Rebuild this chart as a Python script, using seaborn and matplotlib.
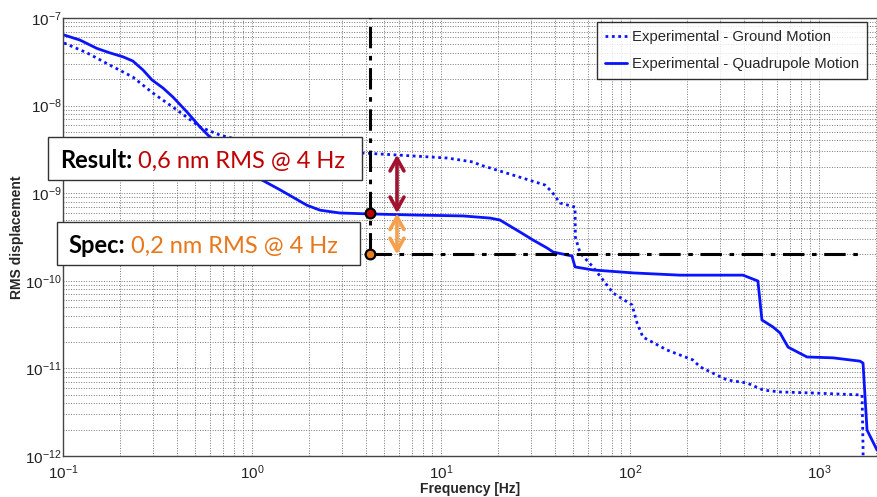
import numpy as np
import pandas as pd
import matplotlib
matplotlib.use("Agg")
import matplotlib.pyplot as plt
import seaborn as sns
from matplotlib.patches import Rectangle

# ---------------- data ----------------
ground_freq = [0.1012, 0.134, 0.177, 0.234, 0.299, 0.401, 0.531, 0.678, 1.41, 2.29,
               3.82, 5.85, 10.8, 14.8, 16.1, 18.2, 35.5, 38.7, 42.6, 51.2, 51.4,
               54.4, 63.7, 81.3, 102.5, 109, 117, 157, 215, 235, 326, 416, 506,
               622, 929, 1690, 1710, 1712]
ground_rms = [5.19e-8, 4.0e-8, 2.9e-8, 2.12e-8, 1.39e-8, 8.9e-9, 5.7e-9, 4.6e-9,
              3.11e-9, 2.88e-9, 2.88e-9, 2.73e-9, 2.52e-9, 2.27e-9, 2.1e-9, 1.94e-9,
              1.24e-9, 1.03e-9, 7.73e-10, 6.95e-10, 3.16e-10, 2.08e-10, 1.44e-10,
              7.26e-11, 5.3e-11, 3.3e-11, 2.28e-11, 1.62e-11, 1.25e-11, 1.04e-11,
              7.38e-12, 6.81e-12, 5.67e-12, 5.38e-12, 5.24e-12, 4.97e-12, 1.27e-12,
              9.0e-13]

quad_freq = [0.1012, 0.123, 0.151, 0.177, 0.208, 0.234, 0.265, 0.296, 0.338, 0.382,
             0.453, 0.531, 0.585, 1.08, 1.41, 1.95, 2.29, 2.92, 4.21, 7.11, 13.1,
             18.2, 20.5, 26.2, 30.7, 36.4, 39.2, 49.3, 51.2, 63.7, 104, 184, 396,
             475, 499, 571, 622, 686, 864, 1186, 1648, 1710, 1795, 2027]
quad_rms = [6.4e-8, 5.6e-8, 4.5e-8, 4.0e-8, 3.6e-8, 3.23e-8, 2.55e-8, 1.96e-8,
            1.59e-8, 1.25e-8, 8.45e-9, 5.7e-9, 4.6e-9, 1.49e-9, 1.09e-9, 7.3e-10,
            6.4e-10, 5.94e-10, 5.8e-10, 5.64e-10, 5.5e-10, 5.2e-10, 4.94e-10,
            3.6e-10, 2.92e-10, 2.37e-10, 2.13e-10, 1.92e-10, 1.44e-10, 1.33e-10,
            1.23e-10, 1.16e-10, 1.16e-10, 9.95e-11, 3.57e-11, 2.97e-11, 2.54e-11,
            1.75e-11, 1.35e-11, 1.32e-11, 1.21e-11, 1.15e-11, 1.98e-12, 1.17e-12]

series_labels = ["Experimental - Ground Motion", "Experimental - Quadrupole Motion"]

spec_freq = 4.2            # Hz, vertical dash-dot marker
spec_level = 2.0e-10       # m, specification
result_level = 5.9e-10     # m, measured quadrupole RMS at 4 Hz
ground_level = 2.75e-9     # m, ground RMS at 4 Hz
arrow_freq = 5.85          # Hz, position of the arrows
spec_line_end = 1690       # Hz, end of horizontal spec line

result_label = "Result:"
result_value = " 0,6 nm RMS @ 4 Hz"
spec_label = "Spec:"
spec_value = " 0,2 nm RMS @ 4 Hz"

x_label = "Frequency [Hz]"
y_label = "RMS displacement"

# ---------------- figure ----------------
sns.set_style("white")
plt.rcParams["font.family"] = ["Liberation Sans", "DejaVu Sans"]
plt.rcParams["axes.unicode_minus"] = False

W, H = 877, 497
fig = plt.figure(figsize=(W / 100, H / 100), dpi=100)
ax = fig.add_axes([63 / W, 1 - 456 / H, (W - 63) / W, (456 - 18) / H])

blue = "#0a14ff"
df_g = pd.DataFrame({"freq": ground_freq, "rms": ground_rms})
df_q = pd.DataFrame({"freq": quad_freq, "rms": quad_rms})

sns.lineplot(data=df_g, x="freq", y="rms", ax=ax, color=blue, lw=2.0,
             sort=False, estimator=None, label=series_labels[0])
sns.lineplot(data=df_q, x="freq", y="rms", ax=ax, color=blue, lw=2.0,
             sort=False, estimator=None, label=series_labels[1])
ax.lines[0].set_dashes([1.0, 1.3])

ax.set_xscale("log")
ax.set_yscale("log")
ax.set_xlim(0.1, 10 ** (-1 + 814 / 189))
ax.set_ylim(1e-12, 1e-7)

ax.grid(True, which="both", linestyle=(0, (1.0, 1.6)), color="#777777", lw=0.7)
ax.set_axisbelow(True)
for s in ["left", "bottom", "top"]:
    ax.spines[s].set_color("#444444")
    ax.spines[s].set_linewidth(1.0)
ax.spines["right"].set_visible(False)
ax.tick_params(which="both", direction="in", labelsize=11, colors="#222222",
               length=3)
ax.tick_params(which="minor", length=2)
ax.tick_params(axis="x", pad=5)
ax.tick_params(axis="y", pad=1)
ax.set_xlabel(x_label, fontsize=10, fontweight="bold", labelpad=0)
ax.set_ylabel(y_label, fontsize=10, fontweight="bold")
ax.yaxis.set_label_coords((24 - 63) / 814, 0.5)

# dash-dot spec lines
dd = (0, (7, 2.5, 1.5, 2.5))
ax.plot([spec_freq, spec_freq], [spec_level, 1e-7], color="black", lw=2.2,
        linestyle=dd, zorder=4)
ax.plot([spec_freq, spec_line_end], [spec_level, spec_level], color="black",
        lw=2.2, linestyle=dd, zorder=4)

# arrows
astyle = "<->,head_length=0.45,head_width=0.25"
ax.annotate("", xy=(arrow_freq, ground_level), xytext=(arrow_freq, result_level),
            arrowprops=dict(arrowstyle=astyle, color="#a0122e", lw=2.6,
                            mutation_scale=20, shrinkA=0, shrinkB=0), zorder=6)
ax.annotate("", xy=(arrow_freq, result_level), xytext=(arrow_freq, spec_level),
            arrowprops=dict(arrowstyle=astyle, color="#f7a04b", lw=2.6,
                            mutation_scale=20, shrinkA=0, shrinkB=0), zorder=6)

# dots
ax.plot([spec_freq], [result_level], marker="o", ms=7, mfc="#c00000",
        mec="black", mew=1.6, zorder=7)
ax.plot([spec_freq], [spec_level], marker="o", ms=7, mfc="#e67e22",
        mec="black", mew=1.6, zorder=7)

# legend
leg = ax.legend(loc="upper left", bbox_to_anchor=((597 - 63) / 814, 0.991),
                fontsize=10.7, frameon=True, fancybox=False, edgecolor="black",
                borderaxespad=0, handlelength=1.5, handletextpad=0.3,
                borderpad=0.55, labelspacing=0.85)
leg.get_frame().set_linewidth(1.0)
leg.set_zorder(10)

# text boxes (figure pixel coordinates)
def px(x, y):
    return x / W, 1 - y / H

for (x0, y0, x1, y1) in [(48, 137, 362, 180), (57, 222, 360, 265)]:
    fig.add_artist(Rectangle(px(x0, y1), (x1 - x0) / W, (y1 - y0) / H,
                             transform=fig.transFigure, facecolor="white",
                             edgecolor="#333333", lw=1.0, zorder=20))

fs = 17
fam = ["Lato", "DejaVu Sans"]
t1 = fig.text(*px(60, 168), result_label, fontsize=fs, fontweight="bold",
              family=fam, color="black", va="baseline", zorder=21)
t2 = fig.text(*px(68, 253), spec_label, fontsize=fs, fontweight="bold",
              family=fam, color="black", va="baseline", zorder=21)
fig.canvas.draw()
r = fig.canvas.get_renderer()
b1 = t1.get_window_extent(r)
b2 = t2.get_window_extent(r)
fig.text(b1.x1 / W, 1 - 168 / H, result_value, fontsize=fs, family=fam,
         color="#c00000", va="baseline", zorder=21)
fig.text(b2.x1 / W, 1 - 253 / H, spec_value, fontsize=fs, family=fam,
         color="#e8771c", va="baseline", zorder=21)

fig.savefig("out.png", dpi=100)
